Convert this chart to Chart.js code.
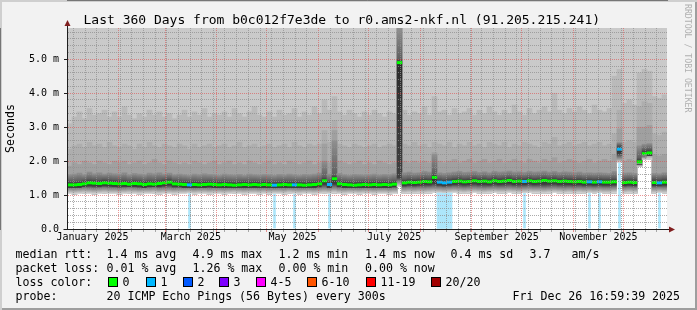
<!DOCTYPE html>
<html>
<head>
<meta charset="utf-8">
<script src="https://cdn.jsdelivr.net/npm/chart.js@4.4.1/dist/chart.umd.min.js"></script>
<style>
  html, body { margin: 0; padding: 0; background: #f2f2f2; }
  #frame { position: relative; width: 697px; height: 310px; background: #f2f2f2; overflow: hidden;
    box-shadow: inset 2px 2px 0 #cfcfcf, inset -2px -2px 0 #9e9e9e;
    font-family: 'DejaVu Sans Mono', monospace; color: #000; }
  #chart { position: absolute; left: 0; top: 0; }
  #title { position: absolute; left: 83.5px; top: 11.5px; font-size: 13px; line-height: 16px; white-space: pre; }
  #credit { position: absolute; left: 683px; top: 4px; writing-mode: vertical-rl; font-size: 8.2px;
    line-height: 10px; color: #b0b0b0; white-space: pre; }
  .t { position: absolute; white-space: pre; font-size: 11.6px; line-height: 14px; }
  .box { position: absolute; width: 8px; height: 8px; border: 1px solid #000; }
</style>
</head>
<body>
<div id="frame">
  <canvas id="chart" width="697" height="250"></canvas>
  <div id="title">Last 360 Days from b0c012f7e3de to r0.ams2-nkf.nl (91.205.215.241)</div>
  <div id="credit">RRDTOOL / TOBI OETIKER</div>

  <span class="t" style="left:15.5px;top:247px">median rtt:</span>
  <span class="t" style="left:106.5px;top:247px">1.4 ms avg</span>
  <span class="t" style="left:192.5px;top:247px">4.9 ms max</span>
  <span class="t" style="left:278.5px;top:247px">1.2 ms min</span>
  <span class="t" style="left:365px;top:247px">1.4 ms now</span>
  <span class="t" style="left:450.5px;top:247px">0.4 ms sd</span>
  <span class="t" style="left:529.5px;top:247px">3.7</span>
  <span class="t" style="left:571.5px;top:247px">am/s</span>

  <span class="t" style="left:15.5px;top:261px">packet loss:</span>
  <span class="t" style="left:106.5px;top:261px">0.01 % avg</span>
  <span class="t" style="left:192.5px;top:261px">1.26 % max</span>
  <span class="t" style="left:278.5px;top:261px">0.00 % min</span>
  <span class="t" style="left:365px;top:261px">0.00 % now</span>

  <span class="t" style="left:15.5px;top:275px">loss color:</span>
  <div id="lossKey"></div>

  <span class="t" style="left:15.5px;top:289px">probe:</span>
  <span class="t" style="left:106.5px;top:289px">20 ICMP Echo Pings (56 Bytes) every 300s</span>
  <span class="t" style="left:512.5px;top:289px">Fri Dec 26 16:59:39 2025</span>
</div>
<script>
// one value per 3-day bin, Jan 1 .. Dec 26 2025 (ms)
const medianRtt = [
  1.30,1.30,1.31,1.33,1.36,1.35,1.34,1.36,1.35,1.34,
  1.33,1.34,1.32,1.34,1.33,1.31,1.33,1.32,1.34,1.36,
  1.38,1.33,1.32,1.31,1.30,1.31,1.30,1.31,1.32,1.31,
  1.30,1.31,1.30,1.29,1.30,1.31,1.30,1.31,1.30,1.31,
  1.30,1.29,1.30,1.31,1.30,1.30,1.30,1.29,1.30,1.31,
  1.33,1.42,1.31,1.48,1.33,1.31,1.30,1.29,1.30,1.31,
  1.30,1.31,1.30,1.31,1.30,1.32,4.90,1.36,1.38,1.37,
  1.38,1.40,1.39,1.52,1.38,1.36,1.38,1.40,1.41,1.39,
  1.40,1.42,1.40,1.41,1.39,1.42,1.40,1.41,1.43,1.40,
  1.41,1.40,1.42,1.40,1.41,1.43,1.41,1.42,1.40,1.41,
  1.40,1.39,1.40,1.38,1.39,1.38,1.39,1.38,1.38,1.39,
  2.35,1.37,1.38,1.37,1.98,2.22,2.24,1.37,1.36,1.38
];
// lost pings (of 20) per bin
const lossCount = [
  0,0,0,0,0,0,0,0,0,0, 0,0,0,0,0,0,0,0,0,0,
  0,0,0,0,1,0,0,0,0,0, 0,0,0,0,0,0,0,0,0,0,
  0,1,0,0,0,1,0,0,0,0, 0,0,1,0,0,0,0,0,0,0,
  0,0,0,0,0,0,0,0,0,0, 0,0,0,0,1,1,1,0,0,0,
  0,0,0,0,0,0,0,0,0,0, 0,1,0,0,0,0,0,0,0,0,
  0,0,0,0,1,0,1,0,0,0, 1,0,0,0,0,0,0,0,1,0
];
// smoke: lowest ping and upper edges of the smoke bands (ms)
const floorRtt = [
  1.04,1.03,1.04,1.05,1.04,1.03,1.04,1.05,1.04,1.04,
  1.03,1.04,1.05,1.04,1.03,1.04,1.04,1.05,1.03,1.04,
  1.04,1.03,1.04,1.04,1.05,1.03,1.04,1.04,1.03,1.04,
  1.04,1.03,1.04,1.05,1.04,1.03,1.04,1.04,1.03,1.04,
  1.03,1.04,1.04,1.03,1.05,1.04,1.03,1.04,1.04,1.03,
  1.04,1.05,1.04,1.06,1.04,1.03,1.04,1.04,1.03,1.04,
  1.04,1.03,1.04,1.04,1.03,1.04,1.25,1.05,1.06,1.05,
  1.06,1.05,1.06,1.07,1.06,1.05,1.06,1.07,1.06,1.05,
  1.06,1.07,1.06,1.05,1.06,1.07,1.06,1.06,1.07,1.06,
  1.05,1.06,1.07,1.06,1.06,1.05,1.06,1.07,1.06,1.05,
  1.06,1.05,1.06,1.05,1.06,1.05,1.06,1.05,1.05,1.06,
  1.95,1.05,1.06,1.05,1.85,2.05,2.05,1.05,1.06,1.05
];
const smoke1 = [
  1.60,1.62,1.65,1.60,1.68,1.63,1.66,1.62,1.65,1.63,
  1.62,1.66,1.60,1.64,1.62,1.60,1.65,1.63,1.66,1.62,
  1.65,1.60,1.62,1.60,1.58,1.62,1.60,1.63,1.61,1.60,
  1.58,1.62,1.60,1.59,1.61,1.58,1.62,1.60,1.59,1.61,
  1.60,1.58,1.61,1.59,1.62,1.60,1.58,1.61,1.60,1.62,
  1.65,2.00,1.62,2.60,1.64,1.60,1.58,1.61,1.60,1.59,
  1.60,1.62,1.59,1.61,1.60,1.63,5.92,1.66,1.68,1.65,
  1.66,1.70,1.68,2.20,1.66,1.64,1.66,1.68,1.70,1.67,
  1.68,1.70,1.67,1.69,1.66,1.70,1.68,1.69,1.71,1.68,
  1.69,1.67,1.70,1.68,1.69,1.71,1.68,1.70,1.67,1.69,
  1.68,1.66,1.68,1.65,1.66,1.65,1.66,1.65,1.64,1.70,
  2.55,1.65,1.66,1.64,2.45,2.50,2.52,1.64,1.63,1.66
];
const smoke2 = [
  1.85,1.95,1.90,2.00,1.95,1.90,2.00,1.95,1.90,2.00,
  1.95,2.00,1.90,1.95,2.00,1.90,1.95,2.05,1.95,1.90,
  2.00,1.95,1.90,1.95,1.90,2.00,1.95,1.90,1.95,2.00,
  1.90,1.95,2.00,1.90,1.95,1.90,2.00,1.95,1.90,1.95,
  2.00,1.90,1.95,1.90,2.00,1.95,1.90,1.95,2.00,1.90,
  1.95,2.50,1.95,2.90,2.00,1.95,1.90,1.95,2.00,1.90,
  1.95,1.90,2.00,1.95,1.90,1.95,5.92,2.00,1.95,2.00,
  1.95,2.00,1.95,2.25,2.00,1.95,2.00,2.05,1.95,2.00,
  2.05,1.95,2.00,2.05,1.95,2.00,2.05,1.95,2.00,2.05,
  2.00,1.95,2.05,2.00,1.95,2.05,2.00,2.10,1.95,2.00,
  2.05,2.00,1.95,2.00,2.05,1.95,2.00,2.05,2.00,2.20,
  2.95,2.00,2.05,2.00,3.00,3.00,3.05,2.20,2.15,2.20
];
const smoke3 = [
  2.35,2.45,2.50,2.40,2.55,2.45,2.50,2.40,2.55,2.45,
  2.40,2.50,2.45,2.35,2.50,2.40,2.55,2.45,2.40,2.50,
  2.45,2.40,2.50,2.45,2.35,2.50,2.40,2.45,2.50,2.40,
  2.45,2.50,2.40,2.45,2.55,2.40,2.45,2.50,2.40,2.45,
  2.50,2.40,2.45,2.50,2.40,2.55,2.45,2.40,2.50,2.45,
  2.50,2.90,2.55,3.20,2.50,2.45,2.40,2.50,2.45,2.40,
  2.45,2.50,2.40,2.45,2.50,2.45,5.92,2.50,2.45,2.55,
  2.45,2.50,2.40,2.55,2.50,2.45,2.55,2.40,2.50,2.45,
  2.55,2.45,2.50,2.40,2.55,2.50,2.45,2.55,2.40,2.50,
  2.45,2.55,2.50,2.45,2.40,2.55,2.50,2.70,2.45,2.50,
  2.55,2.45,2.50,2.55,2.45,2.50,2.55,2.45,2.50,2.80,
  3.50,2.55,2.60,2.55,3.60,3.75,3.70,2.80,2.75,2.85
];
const smoke4 = [
  3.10,3.30,3.45,3.25,3.55,3.35,3.40,3.50,3.30,3.45,
  3.30,3.60,3.35,3.25,3.40,3.30,3.50,3.35,3.45,3.30,
  3.40,3.25,3.35,3.50,3.30,3.45,3.35,3.55,3.30,3.40,
  3.35,3.45,3.30,3.55,3.40,3.30,3.45,3.60,3.35,3.30,
  3.45,3.30,3.50,3.35,3.40,3.55,3.30,3.45,3.35,3.60,
  3.40,3.80,3.50,3.90,3.45,3.35,3.50,3.40,3.30,3.45,
  3.35,3.50,3.40,3.30,3.45,3.40,5.92,3.50,3.35,3.45,
  3.40,3.60,3.35,3.90,3.45,3.50,3.35,3.55,3.40,3.45,
  3.55,3.35,3.50,3.40,3.60,3.45,3.35,3.50,3.40,3.65,
  3.45,3.35,3.55,3.40,3.50,3.60,3.45,4.00,3.50,3.40,
  3.55,3.45,3.60,3.50,3.40,3.65,3.50,3.45,3.55,4.50,
  4.70,3.70,3.80,3.65,4.60,4.70,4.65,3.90,3.85,3.95
];

const Y_MAX = 5.92;
const yTickLabels = ['0.0', '1.0 m', '2.0 m', '3.0 m', '4.0 m', '5.0 m'];
// days since Jan 1 2025
const labelDays = [15.5, 74.5, 135.5, 196.5, 258, 319];
const tickLabels = ['January 2025', 'March 2025', 'May 2025', 'July 2025', 'September 2025', 'November 2025'];
const monthStartDays = [31, 59, 90, 120, 151, 181, 212, 243, 273, 304, 334];
const weekStartDays = [];
for (let d = 4; d < 360; d += 7) weekStartDays.push(d);

const lossLabels = ['0', '1', '2', '3', '4-5', '6-10', '11-19', '20/20'];
const lossColors = ['#00ff00', '#00b8ff', '#0059ff', '#7e00ff', '#ff00ff', '#ff5500', '#ff0000', '#a10000'];

// loss colour key
const keyX = [108, 146, 183, 219, 256, 307, 366, 431];
const key = document.getElementById('lossKey');
lossLabels.forEach((lab, i) => {
  const b = document.createElement('span');
  b.className = 'box';
  b.style.left = keyX[i] + 'px'; b.style.top = '277px'; b.style.background = lossColors[i];
  key.appendChild(b);
  const t = document.createElement('span');
  t.className = 't';
  t.style.left = (keyX[i] + 14.5) + 'px'; t.style.top = '275px';
  t.textContent = lab;
  key.appendChild(t);
});

// x ticks: week lines, month lines and month labels on one axis
const xTicks = [].concat(
  weekStartDays.filter(v => !monthStartDays.includes(v)).map(v => ({value: v, kind: 'week'})),
  monthStartDays.map(v => ({value: v, kind: 'month'})),
  labelDays.map((v, i) => ({value: v, kind: 'label', text: tickLabels[i]}))
).sort((a, b) => a.value - b.value);

const yTicks = [];
for (let k = 0; k * 0.2 < Y_MAX; k++) {
  const v = Math.round(k * 2) / 10;
  yTicks.push({value: v, major: k % 5 === 0, text: k % 5 === 0 ? yTickLabels[k / 5] : ''});
}

const binDays = medianRtt.map((_, i) => 1.7 + 3 * i);
const band = (lo, hi) => binDays.map((d, i) => ({x: d, y: [lo[i], hi[i]]}));

function coreFill(c) {
  const i = c.dataIndex, chart = c.chart;
  if (i === undefined || !chart.chartArea) return '#777777';
  const y = chart.scales.y;
  const yTop = y.getPixelForValue(smoke1[i]), yBot = y.getPixelForValue(floorRtt[i]);
  const yMed = y.getPixelForValue(medianRtt[i]);
  const f = p => Math.min(1, Math.max(0, (p - yTop) / (yBot - yTop)));
  const g = chart.ctx.createLinearGradient(0, yTop, 0, yBot);
  g.addColorStop(0, '#909090');
  g.addColorStop(f(yMed - 4), '#606060');
  g.addColorStop(f(yMed), '#2c2c2c');
  g.addColorStop(Math.max(f(yMed + 3), f(yBot - 9)), '#404040');
  g.addColorStop(Math.max(f(yMed + 3), f(yBot - 6)), '#767676');
  g.addColorStop(f(yBot - 3), '#a6a6a6');
  g.addColorStop(1, '#d8d8d8');
  return g;
}

function lossBorder(c) {
  const i = c.dataIndex;
  if (i === undefined) return 0;
  const wide = lossCount[i - 1] > 0 || lossCount[i + 1] > 0;
  return wide ? 0 : {left: 1.5, right: 1.5, top: 0, bottom: 0};
}

const plotBg = {
  id: 'plotBg',
  beforeDraw(chart) {
    const {ctx, chartArea: a} = chart;
    ctx.save();
    ctx.fillStyle = '#ffffff';
    ctx.fillRect(a.left, a.top, a.right - a.left, a.bottom - a.top);
    ctx.restore();
  }
};

const axisArrows = {
  id: 'axisArrows',
  afterDraw(chart) {
    const {ctx, chartArea: a} = chart;
    const l = Math.round(a.left) + 0.5, b = Math.round(a.bottom) + 0.5;
    ctx.save();
    ctx.strokeStyle = '#1f1f1f';
    ctx.lineWidth = 1;
    ctx.beginPath();
    ctx.moveTo(l - 4, b); ctx.lineTo(a.right + 2, b);
    ctx.moveTo(l, b); ctx.lineTo(l, a.top - 3);
    ctx.stroke();
    ctx.fillStyle = '#801f1f';
    ctx.beginPath();
    ctx.moveTo(l, a.top - 8); ctx.lineTo(l - 3, a.top - 2); ctx.lineTo(l + 3, a.top - 2);
    ctx.closePath(); ctx.fill();
    ctx.beginPath();
    ctx.moveTo(a.right + 8, b); ctx.lineTo(a.right + 2, b - 3); ctx.lineTo(a.right + 2, b + 3);
    ctx.closePath(); ctx.fill();
    ctx.restore();
  }
};

Chart.defaults.font.family = "'DejaVu Sans Mono', monospace";
Chart.defaults.font.size = 10;
Chart.defaults.color = '#000000';

const minorGrid = 'rgba(143,143,143,0.75)';
const majorGrid = 'rgba(222,79,79,0.6)';
const clear = 'rgba(0,0,0,0)';
// one bin = 3 days = 5 px
const barOpts = {grouped: false, barThickness: 5, borderWidth: 0};

new Chart(document.getElementById('chart'), {
  type: 'bar',
  data: {
    datasets: [
      Object.assign({type: 'line', data: binDays.map((d, i) => ({x: d, y: medianRtt[i]})),
        showLine: false, pointStyle: 'line', pointRadius: 2.6, pointBorderWidth: 3,
        pointBorderColor: c => lossColors[lossCount[c.dataIndex] || 0], order: 0}),
      Object.assign({data: binDays.map((d, i) => ({x: d, y: lossCount[i] > 0 ? [0, floorRtt[i]] : null})),
        backgroundColor: '#ade6fb', order: 1}, barOpts,
        {borderWidth: lossBorder, borderColor: '#ffffff', borderSkipped: false}),
      Object.assign({data: band(floorRtt, smoke1), backgroundColor: coreFill, order: 2}, barOpts),
      Object.assign({data: band(floorRtt, smoke2), backgroundColor: '#a0a0a0', order: 3}, barOpts),
      Object.assign({data: band(floorRtt, smoke3), backgroundColor: '#aeaeae', order: 4}, barOpts),
      Object.assign({data: band(floorRtt, smoke4), backgroundColor: '#bababa', order: 5}, barOpts),
      Object.assign({data: binDays.map((d, i) => ({x: d, y: [floorRtt[i], Y_MAX]})),
        backgroundColor: '#cacaca', order: 6}, barOpts)
    ]
  },
  options: {
    responsive: false,
    animation: false,
    devicePixelRatio: 1,
    layout: {padding: {top: 28, right: 30, left: 0, bottom: 0}},
    plugins: {legend: {display: false}, tooltip: {enabled: false}},
    scales: {
      x: {
        type: 'linear', position: 'bottom', min: 0.2, max: 360.2, offset: false,
        afterBuildTicks: s => { s.ticks = xTicks.map(t => Object.assign({}, t)); },
        afterFit: s => { s.height = 21; },
        ticks: {autoSkip: false, maxRotation: 0, padding: -1,
          callback: (v, i, ticks) => ticks[i].kind === 'label' ? ticks[i].text : ''},
        grid: {
          offset: false, z: 1, drawTicks: true, tickLength: 3,
          color: c => !c.tick ? clear : c.tick.kind === 'month' ? majorGrid : c.tick.kind === 'week' ? minorGrid : clear,
          tickColor: c => !c.tick ? clear : c.tick.kind === 'month' ? majorGrid : c.tick.kind === 'week' ? minorGrid : clear
        },
        border: {display: true, color: '#1f1f1f', dash: [1, 1]}
      },
      y: {
        type: 'linear', position: 'left', min: 0, max: Y_MAX,
        afterBuildTicks: s => { s.ticks = yTicks.map(t => Object.assign({}, t)); },
        afterFit: s => { s.width = 67; },
        ticks: {autoSkip: false, padding: 5, callback: (v, i, ticks) => ticks[i].text},
        grid: {
          z: 1, drawTicks: true, tickLength: 3,
          color: c => !c.tick || c.tick.value === 0 ? clear : c.tick.major ? majorGrid : minorGrid,
          tickColor: c => c.tick && c.tick.major ? '#1f1f1f' : clear
        },
        border: {display: true, color: '#1f1f1f', dash: [1, 1]},
        title: {display: true, text: 'Seconds', font: {size: 11.6}, padding: {top: 4, bottom: 0}}
      }
    }
  },
  plugins: [plotBg, axisArrows]
});
</script>
</body>
</html>
